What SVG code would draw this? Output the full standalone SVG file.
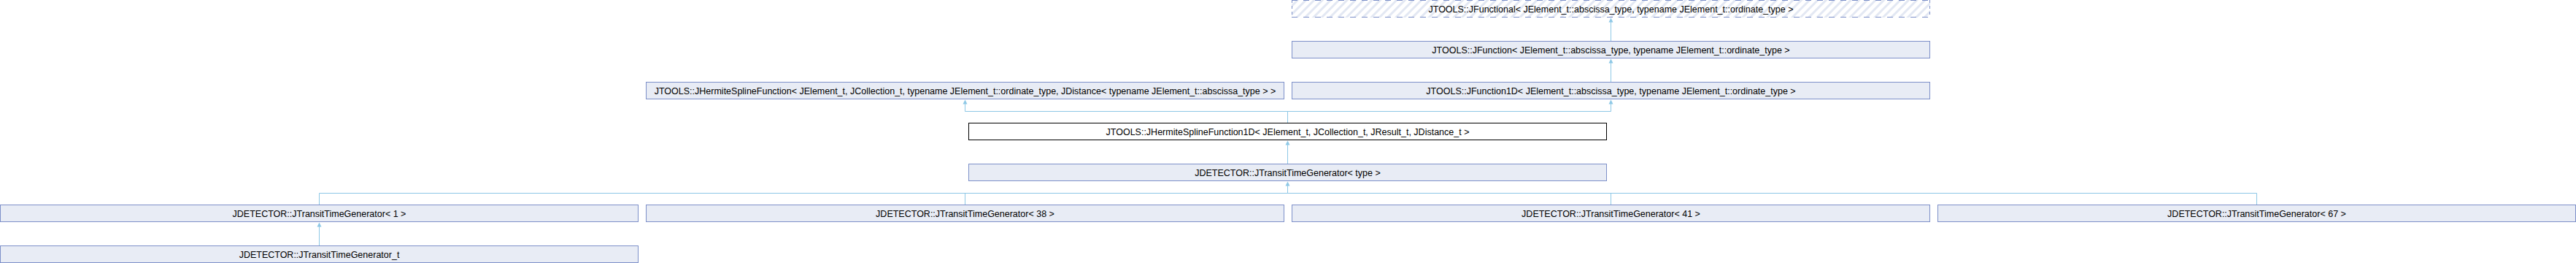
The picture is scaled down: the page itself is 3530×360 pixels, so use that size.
<svg xmlns="http://www.w3.org/2000/svg" width="3530" height="360" viewBox="0 0 3530 360">
<style>
.box{fill:#e8ecf5;stroke:#7d90c9;stroke-width:1}
.cur{fill:#ffffff;stroke:#000000;stroke-width:1}
.lbl{font-family:"Liberation Sans",Arial,sans-serif;font-size:12.5px;fill:#000;text-anchor:middle}
.dash-h{stroke:#7d90c9;stroke-width:1;stroke-dasharray:8 8;fill:none}
.dash-v{stroke:#7d90c9;stroke-width:1;stroke-dasharray:4 4;fill:none}
.conn{stroke:#8ec8e6;stroke-width:1;fill:none}
.ah{fill:#8ec8e6;stroke:none}
</style>
<defs>
<pattern id="hatch" patternUnits="userSpaceOnUse" width="8" height="8" patternTransform="rotate(45)">
<rect x="0" y="0" width="8" height="8" fill="#ffffff"/>
<rect x="0" y="0" width="3" height="8" fill="#e3e8f3"/>
</pattern>
</defs>
<rect width="3530" height="360" fill="#ffffff"/>
<g id="connectors">
<line class="conn" x1="2207.5" y1="28" x2="2207.5" y2="56"/>
<polygon class="ah" points="2207.5,24.5 2210.5,30.5 2204.5,30.5"/>
<line class="conn" x1="2207.5" y1="84" x2="2207.5" y2="112"/>
<polygon class="ah" points="2207.5,80.5 2210.5,86.5 2204.5,86.5"/>
<polyline class="conn" points="1322.5,140 1322.5,152.5 2207.5,152.5 2207.5,140"/>
<line class="conn" x1="1764.5" y1="152.5" x2="1764.5" y2="168"/>
<polygon class="ah" points="1322.5,136.5 1325.5,142.5 1319.5,142.5"/>
<polygon class="ah" points="2207.5,136.5 2210.5,142.5 2204.5,142.5"/>
<line class="conn" x1="1764.5" y1="196" x2="1764.5" y2="224"/>
<polygon class="ah" points="1764.5,192.5 1767.5,198.5 1761.5,198.5"/>
<line class="conn" x1="1764.5" y1="252" x2="1764.5" y2="264.5"/>
<polygon class="ah" points="1764.5,248.5 1767.5,254.5 1761.5,254.5"/>
<line class="conn" x1="437.5" y1="264.5" x2="3092.5" y2="264.5"/>
<line class="conn" x1="437.5" y1="264.5" x2="437.5" y2="280"/>
<line class="conn" x1="1322.5" y1="264.5" x2="1322.5" y2="280"/>
<line class="conn" x1="2207.5" y1="264.5" x2="2207.5" y2="280"/>
<line class="conn" x1="3092.5" y1="264.5" x2="3092.5" y2="280"/>
<line class="conn" x1="437.5" y1="308" x2="437.5" y2="336"/>
<polygon class="ah" points="437.5,304.5 440.5,310.5 434.5,310.5"/>
</g>
<g id="node-jfunctional">
<rect x="1770" y="0" width="875" height="24" fill="url(#hatch)"/>
<line class="dash-h" x1="1770" y1="0.5" x2="2645" y2="0.5"/>
<line class="dash-h" x1="1770" y1="23.5" x2="2645" y2="23.5"/>
<line class="dash-v" x1="1770.5" y1="0" x2="1770.5" y2="24"/>
<line class="dash-v" x1="2644.5" y1="0" x2="2644.5" y2="24"/>
<text class="lbl" x="2207.5" y="16.5">JTOOLS::JFunctional&lt; JElement_t::abscissa_type, typename JElement_t::ordinate_type &gt;</text>
</g>
<g id="node-jfunction">
<rect class="box" x="1770.5" y="56.5" width="874" height="23"/>
<text class="lbl" x="2207.5" y="72.5">JTOOLS::JFunction&lt; JElement_t::abscissa_type, typename JElement_t::ordinate_type &gt;</text>
</g>
<g id="node-jhermitesplinefunction">
<rect class="box" x="885.5" y="112.5" width="874" height="23"/>
<text class="lbl" x="1322.5" y="128.5">JTOOLS::JHermiteSplineFunction&lt; JElement_t, JCollection_t, typename JElement_t::ordinate_type, JDistance&lt; typename JElement_t::abscissa_type &gt; &gt;</text>
</g>
<g id="node-jfunction1d">
<rect class="box" x="1770.5" y="112.5" width="874" height="23"/>
<text class="lbl" x="2207.5" y="128.5">JTOOLS::JFunction1D&lt; JElement_t::abscissa_type, typename JElement_t::ordinate_type &gt;</text>
</g>
<g id="node-jhermitesplinefunction1d">
<rect class="cur" x="1327.5" y="168.5" width="874" height="23"/>
<text class="lbl" x="1764.5" y="184.5">JTOOLS::JHermiteSplineFunction1D&lt; JElement_t, JCollection_t, JResult_t, JDistance_t &gt;</text>
</g>
<g id="node-jtransittimegenerator-type">
<rect class="box" x="1327.5" y="224.5" width="874" height="23"/>
<text class="lbl" x="1764.5" y="240.5">JDETECTOR::JTransitTimeGenerator&lt; type &gt;</text>
</g>
<g id="node-jtransittimegenerator-1">
<rect class="box" x="0.5" y="280.5" width="874" height="23"/>
<text class="lbl" x="437.5" y="296.5">JDETECTOR::JTransitTimeGenerator&lt; 1 &gt;</text>
</g>
<g id="node-jtransittimegenerator-38">
<rect class="box" x="885.5" y="280.5" width="874" height="23"/>
<text class="lbl" x="1322.5" y="296.5">JDETECTOR::JTransitTimeGenerator&lt; 38 &gt;</text>
</g>
<g id="node-jtransittimegenerator-41">
<rect class="box" x="1770.5" y="280.5" width="874" height="23"/>
<text class="lbl" x="2207.5" y="296.5">JDETECTOR::JTransitTimeGenerator&lt; 41 &gt;</text>
</g>
<g id="node-jtransittimegenerator-67">
<rect class="box" x="2655.5" y="280.5" width="874" height="23"/>
<text class="lbl" x="3092.5" y="296.5">JDETECTOR::JTransitTimeGenerator&lt; 67 &gt;</text>
</g>
<g id="node-jtransittimegenerator-t">
<rect class="box" x="0.5" y="336.5" width="874" height="23"/>
<text class="lbl" x="437.5" y="352.5">JDETECTOR::JTransitTimeGenerator_t</text>
</g>
</svg>
